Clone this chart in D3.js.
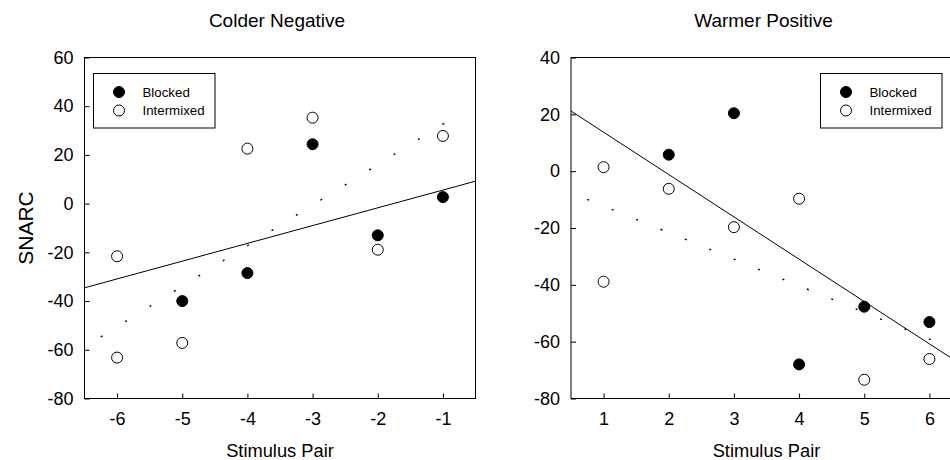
<!DOCTYPE html>
<html>
<head>
<meta charset="utf-8">
<script src="https://cdn.jsdelivr.net/npm/d3@7"></script>
<style>
  body { margin: 0; background: #fff; }
  svg { display: block; font-family: "Liberation Sans", Arial, sans-serif; }
</style>
</head>
<body>
<svg id="chart" width="950" height="460"></svg>
<script>
// data
var coldPairs = [-6, -5, -4, -3, -2, -1];
var coldBlocked = [-21.6, -40.0, -28.5, 24.4, -13.0, 2.7];
var coldIntermixed = [-63.2, -57.2, 22.6, 35.3, -18.9, 27.8];

var warmPairs = [1, 2, 3, 4, 5, 6];
var warmBlocked = [1.4, 5.8, 20.4, -68.0, -47.7, -53.1];
var warmIntermixed = [-38.9, -6.2, -19.7, -9.7, -73.4, -66.1];

var coldYTicks = [-80, -60, -40, -20, 0, 20, 40, 60];
var warmYTicks = [-80, -60, -40, -20, 0, 20, 40];

var seriesNames = ["Blocked", "Intermixed"];

var svg = d3.select("#chart");

// least squares fit
fit = function (xs, ys) {
    var mx = d3.mean(xs), my = d3.mean(ys);
    var sxy = d3.sum(xs, (x, i) => (x - mx) * (ys[i] - my));
    var sxx = d3.sum(xs, x => (x - mx) * (x - mx));
    var b = sxy / sxx;
    return x => my + b * (x - mx);
}

make_panel = function (opts) {
    var x = d3.scaleLinear().domain(opts.xDomain).range([opts.left, opts.left + 391]);
    var y = d3.scaleLinear().domain(opts.yDomain).range([398.5, 57.5]);

    var g = svg.append("g");

    // frame
    g.append("rect")
        .attr("x", x.range()[0]).attr("y", 57.5)
        .attr("width", 391).attr("height", 341)
        .attr("fill", "none").attr("stroke", "#000").attr("stroke-width", 1);

    var xAxis = g.append("g")
        .attr("transform", `translate(0,398.5)`)
        .call(d3.axisBottom(x).tickValues(opts.xs).tickSize(-5).tickSizeOuter(0).tickPadding(14).tickFormat(d3.format("d")));
    var yAxis = g.append("g")
        .attr("transform", `translate(${x.range()[0]},0)`)
        .call(d3.axisLeft(y).tickValues(opts.yTicks).tickSize(-5).tickSizeOuter(0).tickPadding(11).tickFormat(d3.format("d")));
    [xAxis, yAxis].forEach(a => {
        a.select(".domain").remove();
        a.attr("font-family", null).attr("font-size", 18);
        a.selectAll(".tick text").text(d => d < 0 ? "-" + Math.abs(d) : d);
    });

    // regression lines
    var fb = fit(opts.xs, opts.blocked);
    var fi = fit(opts.xs, opts.intermixed);

    var xd = x.domain();
    g.append("line")
        .attr("x1", x(xd[0])).attr("y1", y(fb(xd[0])))
        .attr("x2", x(xd[1])).attr("y2", y(fb(xd[1])))
        .attr("stroke", "#000").attr("stroke-width", 1);

    var xa = d3.min(opts.xs) - 0.25, xb = d3.max(opts.xs) + 0.25;
    var slope = (y(fi(xb)) - y(fi(xa))) / (x(xb) - x(xa));
    var period = 24.4 * Math.sqrt(1 + slope * slope);
    g.append("line")
        .attr("x1", x(xa)).attr("y1", y(fi(xa)))
        .attr("x2", x(xb)).attr("y2", y(fi(xb)))
        .attr("stroke", "#000").attr("stroke-width", 1.4)
        .attr("stroke-dasharray", `2,${period - 2}`);

    // points
    g.append("g").selectAll("circle")
        .data(opts.intermixed)
        .join("circle")
        .attr("cx", (d, i) => x(opts.xs[i]))
        .attr("cy", d => y(d))
        .attr("r", 5.5)
        .attr("fill", "#fff").attr("stroke", "#000").attr("stroke-width", 1);

    // the first blocked point is drawn hollow in the original figure
    g.append("g").selectAll("circle")
        .data(opts.blocked)
        .join("circle")
        .attr("cx", (d, i) => x(opts.xs[i]))
        .attr("cy", d => y(d))
        .attr("r", 5.5)
        .attr("fill", (d, i) => i === 0 ? "#fff" : "#000")
        .attr("stroke", "#000").attr("stroke-width", 1);

    // titles
    g.append("text")
        .attr("x", (x.range()[0] + x.range()[1]) / 2 - 3)
        .attr("y", 27)
        .attr("text-anchor", "middle")
        .attr("font-size", 19)
        .text(opts.title);

    g.append("text")
        .attr("x", (x.range()[0] + x.range()[1]) / 2)
        .attr("y", 457)
        .attr("text-anchor", "middle")
        .attr("font-size", 18.3)
        .text("Stimulus Pair");

    // legend
    var lg = g.append("g").attr("transform", `translate(${opts.legendX},73.5)`);
    lg.append("rect")
        .attr("width", 121.5).attr("height", 54.5)
        .attr("fill", "#fff").attr("stroke", "#000").attr("stroke-width", 1);
    var items = lg.selectAll("g.item")
        .data(seriesNames)
        .join("g")
        .attr("class", "item")
        .attr("transform", (d, i) => `translate(25.5,${18.5 + i * 18.5})`);
    items.append("circle")
        .attr("r", 5.5)
        .attr("fill", (d, i) => i === 0 ? "#000" : "#fff")
        .attr("stroke", "#000");
    items.append("text")
        .attr("x", 23.5)
        .attr("dy", "0.36em")
        .attr("font-size", 13.3)
        .text(d => d);

    return g;
}

make_panel({
    title: "Colder Negative",
    xs: coldPairs, blocked: coldBlocked, intermixed: coldIntermixed,
    xDomain: [-6.5, -0.5], yDomain: [-80, 60], yTicks: coldYTicks,
    left: 84.5, legendX: 93.5
});

make_panel({
    title: "Warmer Positive",
    xs: warmPairs, blocked: warmBlocked, intermixed: warmIntermixed,
    xDomain: [0.5, 6.5], yDomain: [-80, 40], yTicks: warmYTicks,
    left: 571, legendX: 820.5
});

svg.append("text")
    .attr("transform", "translate(33,228) rotate(-90)")
    .attr("text-anchor", "middle")
    .attr("font-size", 21)
    .text("SNARC");
</script>
</body>
</html>
